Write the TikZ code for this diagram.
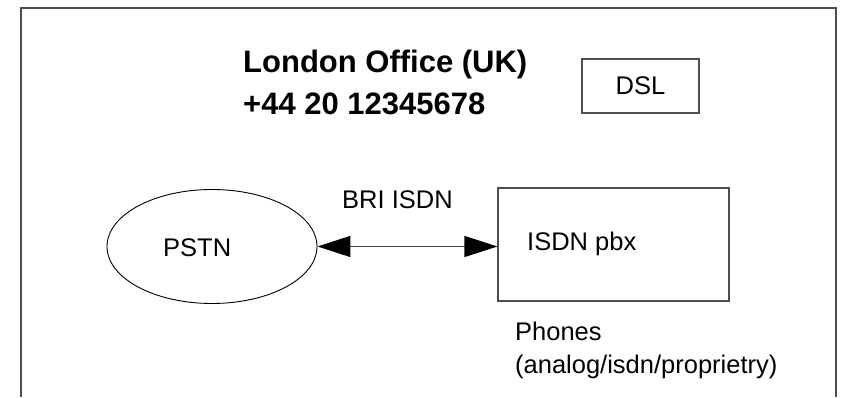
\documentclass[tikz,border=0pt]{standalone}
\usepackage{fontspec}
\setmainfont{Liberation Sans}
\usetikzlibrary{arrows.meta,shapes.geometric}
\definecolor{edgegray}{HTML}{4D4D4D}
\begin{document}
\begin{tikzpicture}[x=1pt,y=1pt,
  frameline/.style={draw=edgegray,line width=1.3pt},
  boxshape/.style={draw=edgegray,line width=1.2pt,rectangle,inner sep=0pt},
  cloudshape/.style={draw=black,line width=0.9pt,ellipse,inner sep=0pt,minimum width=210pt,minimum height=114pt},
  plain/.style={font=\fontsize{25.5}{30}\selectfont,inner sep=0pt},
  heading/.style={font=\bfseries\fontsize{31}{42}\selectfont,inner sep=0pt},
  link/.style={draw=edgegray,line width=1.3pt,{Triangle[length=33pt,width=21pt,fill=black,color=black]}-{Triangle[length=33pt,width=21pt,fill=black,color=black]}}]
\useasboundingbox (0,0) rectangle (844,397);
% open-bottomed frame
\draw[frameline] (21,0) -- (21,389) -- (836,389) -- (836,0);
% title
\node[heading,anchor=base west] (title1) at (243,324) {London Office (UK)};
\node[heading,anchor=base west] (title2) at (243,282) {+44 20 12345678};
% DSL box
\node[boxshape,minimum width=117pt,minimum height=54pt,font=\fontsize{25.5}{30}\selectfont] (dsl) at (640.5,311) {DSL};
% PSTN cloud
\node[cloudshape] (pstn) at (212,150.5) {};
\node[plain,anchor=base west] (pstntext) at (163,141) {PSTN};
% ISDN pbx box
\node[boxshape,minimum width=231pt,minimum height=113pt] (pbx) at (613.5,152.5) {};
\node[plain,anchor=base west] (pbxtext) at (527,147) {ISDN pbx};
% BRI link
\draw[link] (pstn.east) -- (pstn.east -| pbx.west);
\node[plain,anchor=base west] (bri) at (342,189) {BRI ISDN};
% phones note
\node[plain,anchor=base west] (phones1) at (515,57) {Phones};
\node[plain,anchor=base west] (phones2) at (515,24) {(analog/isdn/proprietry)};
\end{tikzpicture}
\end{document}
